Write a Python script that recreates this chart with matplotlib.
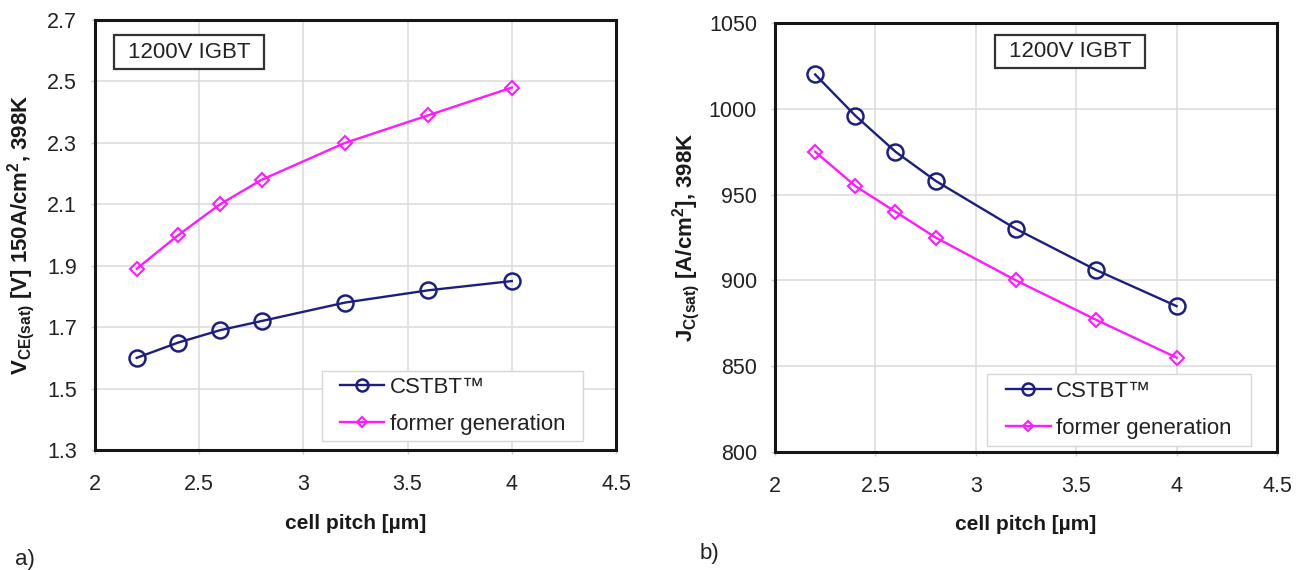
import matplotlib
matplotlib.use("Agg")
import matplotlib.pyplot as plt
from matplotlib.patches import Rectangle

plt.rcParams['font.family'] = ['Liberation Sans', 'DejaVu Sans']
plt.rcParams['mathtext.fontset'] = 'custom'
plt.rcParams['mathtext.rm'] = 'Liberation Sans'
plt.rcParams['mathtext.bf'] = 'Liberation Sans:bold'
plt.rcParams['mathtext.default'] = 'bf'

# cell pitch values (um)
pitch = [2.2, 2.4, 2.6, 2.8, 3.2, 3.6, 4.0]

# a) VCE(sat) at 150A/cm2, 398K
vce_cstbt = [1.60, 1.65, 1.69, 1.72, 1.78, 1.82, 1.85]
vce_former = [1.89, 2.00, 2.10, 2.18, 2.30, 2.39, 2.48]

# b) JC(sat) at 398K
jc_cstbt = [1020, 996, 975, 958, 930, 906, 885]
jc_former = [975, 955, 940, 925, 900, 877, 855]

series_names = ['CSTBT\u2122', 'former generation']
box_text = '1200V IGBT'

navy = '#1c1f80'
magenta = '#ff1aff'

fig = plt.figure(figsize=(13.01, 5.70), dpi=100)
ax1 = fig.add_axes([95 / 1301, 1 - 450 / 570, 521 / 1301, 430 / 570])
ax2 = fig.add_axes([775 / 1301, 1 - 452 / 570, 502 / 1301, 429 / 570])


def add_box(ax, box, z):
    # plain rectangle in axes coordinates (x0, y0, x1, y1)
    x0, y0, x1, y1 = box
    ax.add_patch(Rectangle((x0, y0), x1 - x0, y1 - y0, transform=ax.transAxes,
                           facecolor='white', edgecolor=z[0], linewidth=z[1],
                           zorder=5))


def draw_panel(ax, y1, y2, ylim, yticks, ylabel, ylab_x, box, leg_box):
    ax.plot(pitch, y1, color=navy, linewidth=1.7, marker='o', markersize=11.5,
            markerfacecolor='none', markeredgewidth=1.8, label=series_names[0])
    ax.plot(pitch, y2, color=magenta, linewidth=1.7, marker='D', markersize=6.8,
            markerfacecolor='none', markeredgewidth=1.5, label=series_names[1])
    ax.set_xlim(2, 4.5)
    ax.set_ylim(*ylim)
    ax.set_xticks([2, 2.5, 3, 3.5, 4, 4.5])
    ax.set_xticklabels(['2', '2.5', '3', '3.5', '4', '4.5'])
    ax.set_yticks(yticks)
    ax.grid(True, color='#dadada', linewidth=1.1)
    ax.set_axisbelow(True)
    ax.tick_params(length=3, width=1, color='#cfcfcf', labelsize=15.5,
                   labelcolor='#222222')
    ax.tick_params(axis='x', pad=14.5)
    ax.tick_params(axis='y', pad=10)
    for s in ax.spines.values():
        s.set_linewidth(2.2)
        s.set_color('#151515')
    ax.set_xlabel('cell pitch [\u00b5m]', fontsize=15, fontweight='bold',
                  color='#1a1a1a')
    ax.xaxis.set_label_coords(0.5, -0.148)
    ax.set_ylabel(ylabel, fontsize=16, fontweight='bold', color='#1a1a1a')
    ax.yaxis.set_label_coords(ylab_x, 0.5)

    # legend frame drawn separately, legend content centred inside it
    add_box(ax, leg_box, ('#d6d6d6', 1.0))
    cx = (leg_box[0] + leg_box[2]) / 2
    cy = (leg_box[1] + leg_box[3]) / 2
    leg = ax.legend(loc='center', bbox_to_anchor=(cx, cy), borderaxespad=0,
                    fontsize=16, frameon=False, handlelength=2.0,
                    borderpad=0, labelspacing=0.7, handletextpad=0.25,
                    markerscale=0.75)
    leg.set_zorder(6)
    for t in leg.get_texts():
        t.set_color('#222222')

    add_box(ax, box, ('#333333', 1.6))
    ax.text((box[0] + box[2]) / 2, (box[1] + box[3]) / 2, box_text,
            transform=ax.transAxes, fontsize=16, va='center', ha='center',
            color='#222222', zorder=6)


draw_panel(ax1, vce_cstbt, vce_former, (1.3, 2.7),
           [1.3, 1.5, 1.7, 1.9, 2.1, 2.3, 2.5, 2.7],
           'V$_{CE(sat)}$ [V] 150A/cm$^{2}$, 398K', -0.111,
           (0.0365, 0.886, 0.324, 0.965), (0.4357, 0.021, 0.937, 0.1837))
draw_panel(ax2, jc_cstbt, jc_former, (800, 1050),
           [800, 850, 900, 950, 1000, 1050],
           'J$_{C(sat)}$ [A/cm$^{2}$], 398K', -0.145,
           (0.438, 0.895, 0.737, 0.972), (0.422, 0.014, 0.948, 0.182))

fig.text(15 / 1301, 1 - 560 / 570, 'a)', fontsize=16, va='center', color='#222222')
fig.text(700 / 1301, 1 - 553 / 570, 'b)', fontsize=16, va='center', color='#222222')

fig.savefig('out.png', dpi=100)
